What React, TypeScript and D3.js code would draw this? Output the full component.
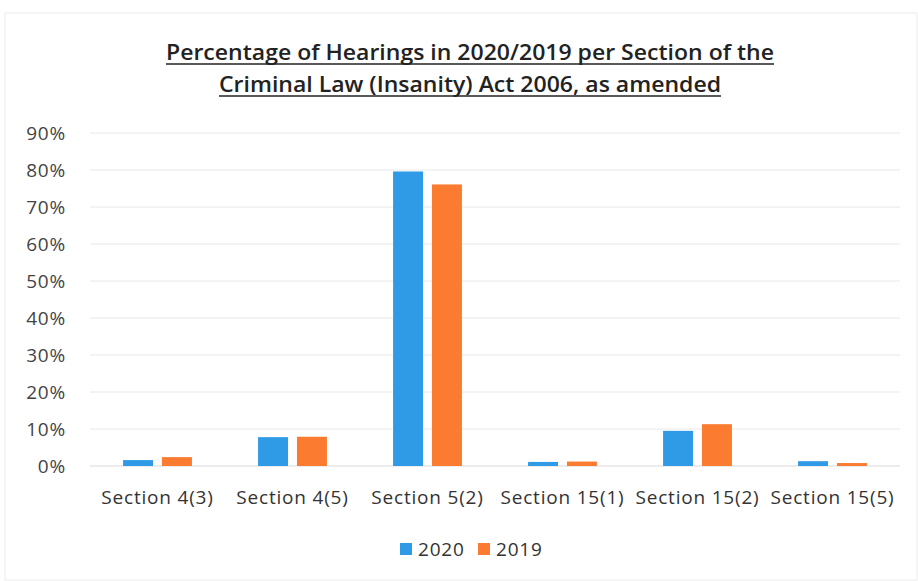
// Hearings per section bar chart
import React, { useEffect, useRef } from 'react';
import * as d3 from 'd3';

const categories = ['Section 4(3)', 'Section 4(5)', 'Section 5(2)', 'Section 15(1)', 'Section 15(2)', 'Section 15(5)'];
const seriesNames = ['2020', '2019'];
const values2020 = [1.6, 7.8, 79.6, 1.1, 9.5, 1.3];
const values2019 = [2.4, 7.9, 76.1, 1.2, 11.3, 0.8];
const yTicks = [0, 10, 20, 30, 40, 50, 60, 70, 80, 90];
const titleLines = ['Percentage of Hearings in 2020/2019 per Section of the', 'Criminal Law (Insanity) Act 2006, as amended'];

const colors = ['#2f9be6', '#fb7b30'];
const FONT = "'Open Sans', 'Noto Sans', sans-serif";

const App: React.FC = () => {
  const svgRef = useRef<SVGSVGElement>(null);

  useEffect(() => {
    if (!svgRef.current) return;
    const svg = d3.select(svgRef.current);
    svg.selectAll('*').remove();

    const width = 918;
    const height = 581;
    const margin = { left: 90, right: 18, top: 133, bottom: 115 };

    svg.append('rect')
      .attr('x', 5).attr('y', 13)
      .attr('width', width - 6).attr('height', height - 14)
      .attr('fill', '#fff')
      .attr('stroke', '#ececec');

    // Title
    const titleWidths = [608, 502];
    titleLines.forEach((line, i) => {
      const y = 60 + i * 32;
      svg.append('text')
        .attr('x', width / 2 + 11)
        .attr('y', y)
        .attr('text-anchor', 'middle')
        .attr('font-family', FONT)
        .attr('font-size', 21)
        .attr('font-weight', 600)
        .attr('fill', '#222')
        .attr('textLength', titleWidths[i])
        .attr('lengthAdjust', 'spacingAndGlyphs')
        .text(line);
      svg.append('line')
        .attr('x1', width / 2 + 11 - titleWidths[i] / 2)
        .attr('x2', width / 2 + 11 + titleWidths[i] / 2)
        .attr('y1', y + 4).attr('y2', y + 4)
        .attr('stroke', '#222')
        .attr('stroke-width', 1.6);
    });

    const x = d3.scaleBand<string>()
      .domain(categories)
      .range([margin.left, width - margin.right])
      .paddingInner(0)
      .paddingOuter(0);

    const xSub = d3.scaleBand<string>()
      .domain(seriesNames)
      .range([0, x.bandwidth()])
      .paddingInner(0.23)
      .paddingOuter(0.85);

    const y = d3.scaleLinear()
      .domain([0, 90])
      .range([height - margin.bottom, margin.top]);

    // Gridlines
    svg.append('g')
      .selectAll('line')
      .data(yTicks)
      .enter()
      .append('line')
      .attr('x1', margin.left)
      .attr('x2', width - margin.right)
      .attr('y1', d => y(d))
      .attr('y2', d => y(d))
      .attr('stroke', d => (d === 0 ? '#d9d9d9' : '#e8e8e8'))
      .attr('stroke-width', 1);

    // Y tick labels
    svg.append('g')
      .selectAll('text')
      .data(yTicks)
      .enter()
      .append('text')
      .attr('x', 66)
      .attr('y', d => y(d))
      .attr('dy', '0.35em')
      .attr('text-anchor', 'end')
      .attr('font-family', FONT)
      .attr('font-size', 19)
      .attr('letter-spacing', 0.8)
      .attr('fill', '#444')
      .text(d => `${d}%`);

    // Bars
    const series = [values2020, values2019];
    series.forEach((vals, s) => {
      svg.append('g')
        .selectAll('rect')
        .data(vals)
        .enter()
        .append('rect')
        .attr('x', (_, i) => (x(categories[i]) as number) + (xSub(seriesNames[s]) as number))
        .attr('y', d => y(d))
        .attr('width', xSub.bandwidth())
        .attr('height', d => y(0) - y(d))
        .attr('fill', colors[s]);
    });

    // Category labels
    svg.append('g')
      .selectAll('text')
      .data(categories)
      .enter()
      .append('text')
      .attr('x', d => (x(d) as number) + x.bandwidth() / 2)
      .attr('y', 497)
      .attr('dy', '0.35em')
      .attr('text-anchor', 'middle')
      .attr('font-family', FONT)
      .attr('font-size', 19)
      .attr('letter-spacing', 0.8)
      .attr('fill', '#333')
      .text(d => d);

    // Legend
    const legendItems = [{ x: 400 }, { x: 478 }];
    seriesNames.forEach((name, i) => {
      const lx = legendItems[i].x;
      svg.append('rect')
        .attr('x', lx).attr('y', 543)
        .attr('width', 12).attr('height', 12)
        .attr('fill', colors[i]);
      svg.append('text')
        .attr('x', lx + 18)
        .attr('y', 549)
        .attr('dy', '0.35em')
        .attr('font-family', FONT)
        .attr('font-size', 19)
        .attr('letter-spacing', 0.8)
        .attr('fill', '#333')
        .text(name);
    });
  }, []);

  return (
    <svg
      ref={svgRef}
      width={918}
      height={581}
      style={{ position: 'absolute', left: 0, top: 0, display: 'block' }}
    />
  );
};

export default App;
